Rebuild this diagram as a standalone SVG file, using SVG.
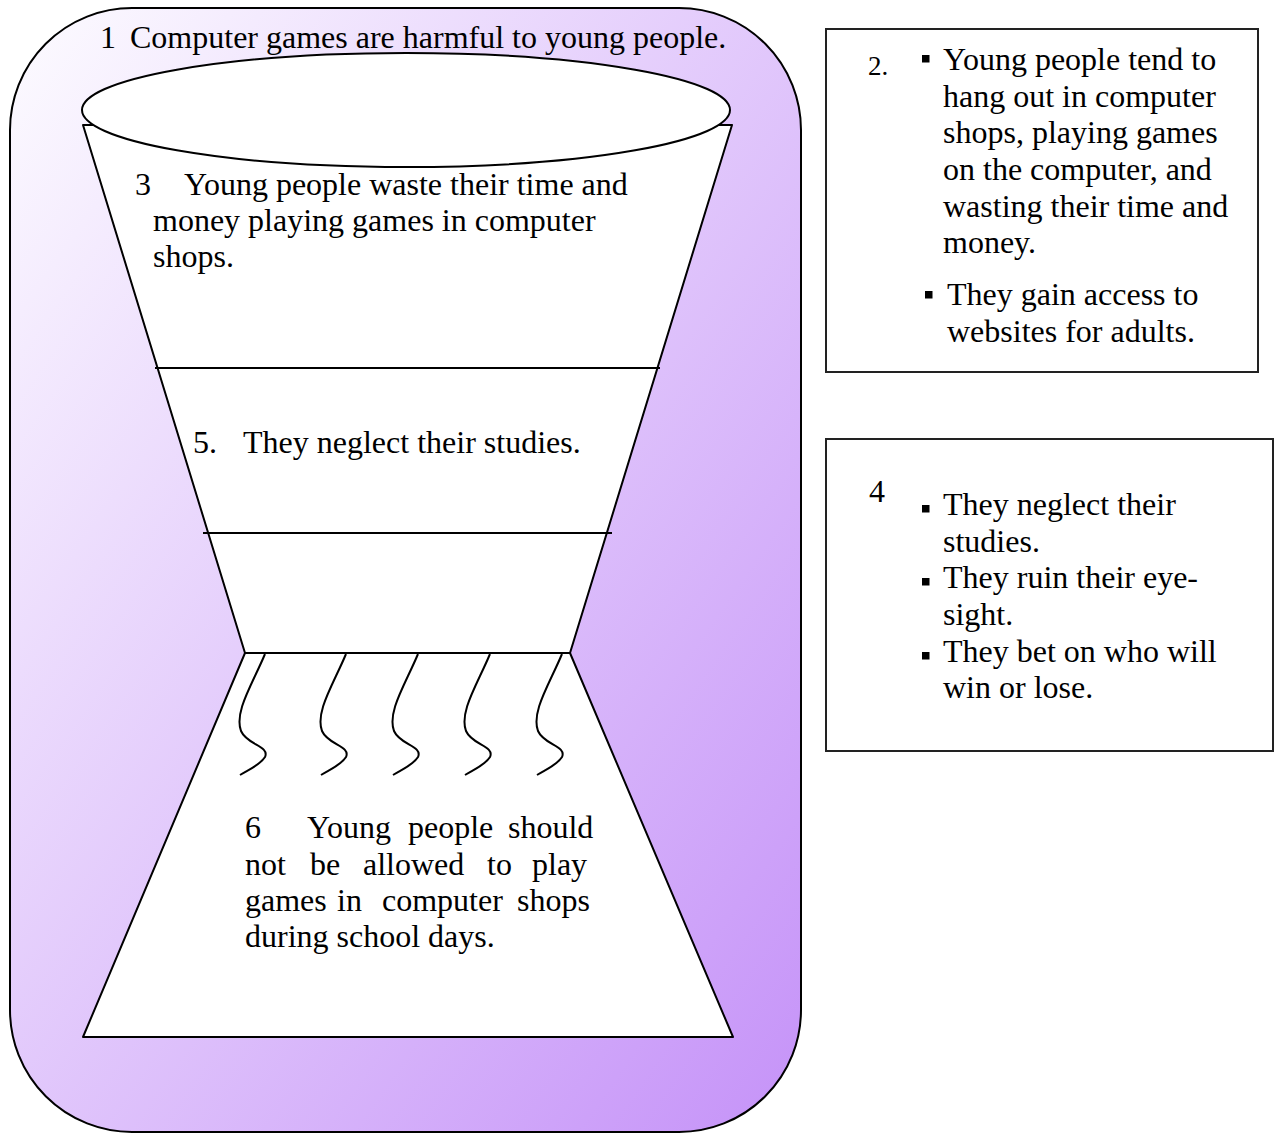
<svg xmlns="http://www.w3.org/2000/svg" width="1274" height="1134" viewBox="0 0 1274 1134">
  <defs>
    <linearGradient id="bgGrad" x1="0" y1="0" x2="1" y2="1">
      <stop offset="0" stop-color="#fdfcff"/>
      <stop offset="1" stop-color="#c592f8"/>
    </linearGradient>
    <style>
      text { font-family: "Liberation Serif", "Times New Roman", serif; font-size: 32px; fill: #000; }
      .line { fill: none; stroke: #000; stroke-width: 2; }
      .shape { fill: #fff; stroke: #000; stroke-width: 2; stroke-linejoin: round; }
      .box { fill: #fff; stroke: #222; stroke-width: 2; }
      .bullet { fill: #000; }
    </style>
  </defs>

  <rect x="0" y="0" width="1274" height="1134" fill="#fff"/>

  <!-- Outer rounded panel holding the funnel -->
  <g id="panel">
    <rect x="10" y="8" width="791" height="1124" rx="122" ry="122" fill="url(#bgGrad)" stroke="#000" stroke-width="2"/>
  </g>

  <!-- Funnel: upper cone, rim and lower base -->
  <g id="funnel">
    <path class="shape" d="M83,125 L245,653 L570,653 L732,125 Z"/>
    <ellipse class="shape" cx="406" cy="110" rx="324" ry="57"/>
    <path class="shape" d="M245,653 L570,653 L733,1037 L83,1037 Z"/>
  </g>

  <!-- Section dividers and drip lines -->
  <g id="connectors">
    <line class="line" x1="155" y1="368" x2="660" y2="368"/>
    <line class="line" x1="203" y1="533" x2="612" y2="533"/>
    <path class="line" d="M265,654 C252,685 234,712 241,731 C247,745 270,746 265,757 C260,765 250,769 240,775"/>
    <path class="line" d="M346,654 C333,685 315,712 322,731 C328,745 351,746 346,757 C341,765 331,769 321,775"/>
    <path class="line" d="M418,654 C405,685 387,712 394,731 C400,745 423,746 418,757 C413,765 403,769 393,775"/>
    <path class="line" d="M490,654 C477,685 459,712 466,731 C472,745 495,746 490,757 C485,765 475,769 465,775"/>
    <path class="line" d="M562,654 C549,685 531,712 538,731 C544,745 567,746 562,757 C557,765 547,769 537,775"/>
  </g>

  <!-- 1: claim -->
  <g id="node1">
    <text x="100" y="48">1</text>
    <text x="130" y="48">Computer games are harmful to young people.</text>
  </g>

  <!-- 3: reason -->
  <g id="node3">
    <text x="135" y="195">3</text>
    <text x="184" y="195">Young people waste their time and</text>
    <text x="153" y="231">money playing games in computer</text>
    <text x="153" y="267">shops.</text>
  </g>

  <!-- 5: reason -->
  <g id="node5">
    <text x="193" y="453">5.</text>
    <text x="243" y="453">They neglect their studies.</text>
  </g>

  <!-- 6: conclusion, justified word by word -->
  <g id="node6">
    <text y="838"><tspan x="245">6</tspan><tspan x="307">Young</tspan><tspan x="408">people</tspan><tspan x="508">should</tspan></text>
    <text y="875"><tspan x="245">not</tspan><tspan x="310">be</tspan><tspan x="363">allowed</tspan><tspan x="487">to</tspan><tspan x="532">play</tspan></text>
    <text y="911"><tspan x="245">games</tspan><tspan x="337">in</tspan><tspan x="382">computer</tspan><tspan x="517">shops</tspan></text>
    <text x="245" y="947">during school days.</text>
  </g>

  <!-- 2: evidence box -->
  <g id="node2">
    <rect class="box" x="826" y="29" width="432" height="343"/>
    <text x="868" y="75" style="font-size:27px">2.</text>
    <rect class="bullet" x="922" y="55" width="7.5" height="7.5"/>
    <text x="943" y="70">Young people tend to</text>
    <text x="943" y="107">hang out in computer</text>
    <text x="943" y="143">shops, playing games</text>
    <text x="943" y="180">on the computer, and</text>
    <text x="943" y="217">wasting their time and</text>
    <text x="943" y="253">money.</text>
    <rect class="bullet" x="925" y="291" width="7.5" height="7.5"/>
    <text x="947" y="305">They gain access to</text>
    <text x="947" y="342">websites for adults.</text>
  </g>

  <!-- 4: evidence box -->
  <g id="node4">
    <rect class="box" x="826" y="439" width="447" height="312"/>
    <text x="869" y="502">4</text>
    <rect class="bullet" x="922" y="505" width="7.5" height="7.5"/>
    <text x="943" y="515">They neglect their</text>
    <text x="943" y="552">studies.</text>
    <rect class="bullet" x="922" y="578" width="7.5" height="7.5"/>
    <text x="943" y="588">They ruin their eye-</text>
    <text x="943" y="625">sight.</text>
    <rect class="bullet" x="922" y="652" width="7.5" height="7.5"/>
    <text x="943" y="662">They bet on who will</text>
    <text x="943" y="698">win or lose.</text>
  </g>
</svg>
